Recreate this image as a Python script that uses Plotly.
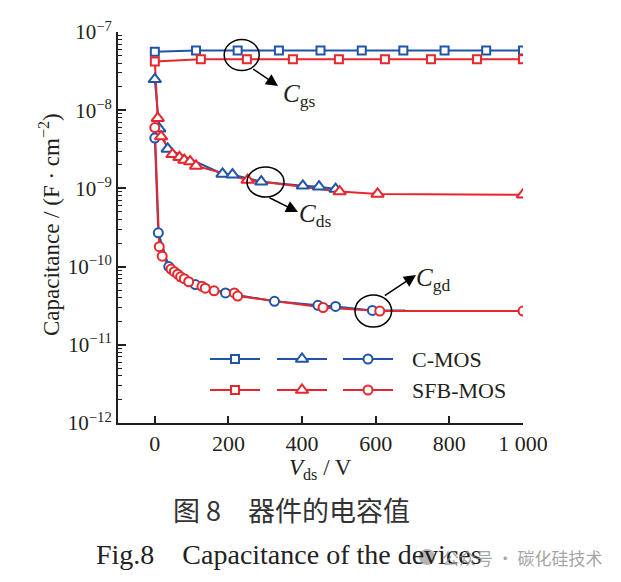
import plotly.graph_objects as go

# ---------------- data ----------------
# C-MOS (blue)
cgs_cmos_x = [0, 112, 225, 337, 450, 562, 675, 787, 900, 1000]
cgs_cmos_y = [5.6e-8, 5.8e-8, 5.8e-8, 5.8e-8, 5.8e-8, 5.8e-8, 5.8e-8, 5.8e-8, 5.8e-8, 5.8e-8]
cds_cmos_x = [0, 12, 35, 184, 211, 289, 402, 446, 491]
cds_cmos_y = [2.48e-8, 5.8e-9, 3.2e-9, 1.53e-9, 1.5e-9, 1.22e-9, 1.08e-9, 1.05e-9, 0.98e-9]
cgd_cmos_x = [0, 9.5, 38, 110, 192, 325, 443, 491, 591, 680]
cgd_cmos_y = [4.4e-9, 2.7e-10, 1.0e-10, 5.9e-11, 4.6e-11, 3.6e-11, 3.2e-11, 3.1e-11, 2.75e-11, 2.75e-11]

# SFB-MOS (red)
cgs_sfb_x = [0, 125, 250, 375, 500, 625, 750, 875, 1000]
cgs_sfb_y = [4.2e-8, 4.48e-8, 4.48e-8, 4.48e-8, 4.48e-8, 4.48e-8, 4.48e-8, 4.48e-8, 4.48e-8]
cds_sfb_x = [0, 8, 17, 48, 67, 80, 96, 112, 252, 502, 605, 1000]
cds_sfb_y = [4.2e-8, 7.9e-9, 4.6e-9, 2.73e-9, 2.5e-9, 2.3e-9, 2.2e-9, 1.94e-9, 1.28e-9, 0.91e-9, 0.85e-9, 0.83e-9]
cgd_sfb_x = [0, 12, 20, 44, 53, 62, 70, 80, 92, 128, 137, 161, 216, 225, 457, 611, 1000]
cgd_sfb_y = [6.0e-9, 1.8e-10, 1.36e-10, 9.3e-11, 8.6e-11, 8.0e-11, 7.4e-11, 7.0e-11, 6.4e-11,
             5.6e-11, 5.3e-11, 4.9e-11, 4.6e-11, 4.2e-11, 3.0e-11, 2.7e-11, 2.7e-11]

series_names = ["C-MOS", "SFB-MOS"]
x_tick_vals = [0, 200, 400, 600, 800, 1000]
x_tick_text = ["0", "200", "400", "600", "800", "1 000"]
y_exponents = [-12, -11, -10, -9, -8, -7]

# ---------------- style ----------------
BLUE = "#1f54a6"
RED = "#e8262d"
AX = "#231f20"
SERIF = "Liberation Serif, Times New Roman, serif"
W, H = 621, 582
L, R, T, B = 118, 98, 32, 159

MK = {
    "square": dict(symbol="square", size=8),
    "tri": dict(symbol="triangle-up", size=11),
    "circ": dict(symbol="circle", size=9),
}

fig = go.Figure()

series = [
    (cgs_cmos_x, cgs_cmos_y, BLUE, "square", 0, None),
    (cds_cmos_x, cds_cmos_y, BLUE, "tri", 0, None),
    (cgd_cmos_x, cgd_cmos_y, BLUE, "circ", 0, -1),
    (cgs_sfb_x, cgs_sfb_y, RED, "square", 0, None),
    (cds_sfb_x, cds_sfb_y, RED, "tri", 1, None),
    (cgd_sfb_x, cgd_sfb_y, RED, "circ", 0, None),
]

for xs, ys, col, mk, s0, s1 in series:
    fig.add_trace(go.Scatter(x=xs, y=ys, mode="lines", line=dict(color=col, width=2),
                             showlegend=False, hoverinfo="skip"))
for xs, ys, col, mk, s0, s1 in series:
    fig.add_trace(go.Scatter(x=xs[s0:s1], y=ys[s0:s1], mode="markers",
                             marker=dict(**MK[mk], color="white", line=dict(color=col, width=2)),
                             showlegend=False, hoverinfo="skip"))

# ---------------- custom legend (overlay pixel axes) ----------------
leg_rows = [(359, BLUE), (390, RED)]
leg_cols = [(210, 260, "square"), (277, 327, "tri"), (343, 393, "circ")]
for (ly, col), name in zip(leg_rows, series_names):
    for x0, x1, mk in leg_cols:
        fig.add_trace(go.Scatter(x=[x0, x1], y=[ly, ly], mode="lines", xaxis="x2", yaxis="y2",
                                 line=dict(color=col, width=2), showlegend=False, hoverinfo="skip"))
        fig.add_trace(go.Scatter(x=[(x0 + x1) / 2], y=[ly], mode="markers", xaxis="x2", yaxis="y2",
                                 marker=dict(**MK[mk], color="white", line=dict(color=col, width=2)),
                                 showlegend=False, hoverinfo="skip"))
    fig.add_annotation(x=410, y=ly, xref="x2", yref="y2", text=name, showarrow=False,
                       xanchor="left", yanchor="middle", font=dict(family=SERIF, size=22, color=AX))

# ---------------- ellipses, arrows, labels ----------------
ellipses = [(241.7, 55, 17.5, 15.5), (265.5, 182, 18.5, 15), (373.3, 311, 18.3, 16)]
for cx, cy, rx, ry in ellipses:
    fig.add_shape(type="circle", xref="x2", yref="y2", x0=cx - rx, x1=cx + rx, y0=cy - ry, y1=cy + ry,
                  line=dict(color="black", width=1.5))

arrows = [((251.7, 68), (278, 86)), ((268, 197), (298, 212)), ((383.3, 296.7), (416, 275))]
for (tx, ty), (hx, hy) in arrows:
    fig.add_annotation(x=hx, y=hy, ax=tx, ay=ty, xref="x2", yref="y2", axref="x2", ayref="y2",
                       text="", showarrow=True, arrowhead=2, arrowsize=1.6, arrowwidth=1.5,
                       arrowcolor="black")

labels = [(281, 95, "gs"), (297, 215, "ds"), (414, 279, "gd")]
for lx, ly, sub in labels:
    fig.add_annotation(x=lx, y=ly, xref="x2", yref="y2",
                       text=f"<i>C</i><sub>{sub}</sub>", showarrow=False,
                       xanchor="left", yanchor="middle", font=dict(family=SERIF, size=25, color=AX))


def px_x(p):
    return (p - L) / (W - L - R)


def px_y(p):
    return (H - B - p) / (H - T - B)


# axis titles
fig.add_annotation(x=px_x(50), y=px_y(225), xref="paper", yref="paper",
                   text="Capacitance / (F · cm<sup>−2</sup>)", textangle=-90, showarrow=False,
                   xanchor="center", yanchor="middle", font=dict(family=SERIF, size=23, color=AX))
fig.add_annotation(x=px_x(320), y=px_y(469), xref="paper", yref="paper",
                   text="<i>V</i><sub>ds</sub> / V", showarrow=False, borderpad=0,
                   xanchor="center", yanchor="middle", font=dict(family=SERIF, size=23, color=AX))

# captions
fig.add_annotation(x=px_x(171), y=px_y(509), xref="paper", yref="paper",
                   text="图 8\u2003器件的电容值", showarrow=False, xanchor="left", yanchor="middle",
                   font=dict(family="Noto Sans CJK SC", size=27, color="#333333"))
fig.add_annotation(x=px_x(94), y=px_y(554), xref="paper", yref="paper",
                   text="Fig.8\u2003Capacitance of the devices", showarrow=False, xanchor="left",
                   yanchor="middle", font=dict(family=SERIF, size=28, color="#222222"))
fig.add_shape(type="circle", xref="paper", yref="paper",
              x0=px_x(419), x1=px_x(435), y0=px_y(565), y1=px_y(549),
              fillcolor="rgba(120,120,120,0.55)", line=dict(width=0))
fig.add_annotation(x=px_x(440), y=px_y(557), xref="paper", yref="paper",
                   text="公众号 · 碳化硅技术", showarrow=False, xanchor="left", yanchor="middle",
                   font=dict(family="Noto Sans CJK SC", size=17, color="rgba(140,140,140,0.8)"))

minor_vals = [k * 10.0 ** e for e in range(-12, -7) for k in range(2, 10)]

fig.update_layout(
    width=W, height=H, margin=dict(l=L, r=R, t=T, b=B, pad=0),
    paper_bgcolor="white", plot_bgcolor="white", showlegend=False,
    xaxis=dict(range=[-100, 1000], tickmode="array", tickvals=x_tick_vals, ticktext=x_tick_text,
               ticks="inside", ticklen=7, tickwidth=1.5, tickcolor=AX, showline=True, linecolor=AX,
               linewidth=2, showgrid=False, zeroline=False,
               tickfont=dict(family=SERIF, size=22, color=AX)),
    yaxis=dict(type="log", range=[-12, -7], tickmode="array",
               tickvals=[10.0 ** e for e in y_exponents],
               ticktext=[f"10<sup>−{-e}</sup>" for e in y_exponents],
               ticks="inside", ticklen=8, tickwidth=1.5, tickcolor=AX, showline=True, linecolor=AX,
               linewidth=2, showgrid=False, zeroline=False,
               minor=dict(tickmode="array", tickvals=minor_vals, ticks="inside", ticklen=4,
                          tickwidth=1.2, tickcolor=AX, showgrid=False),
               tickfont=dict(family=SERIF, size=21, color=AX)),
    xaxis2=dict(overlaying="x", range=[L, W - R], visible=False, fixedrange=True),
    yaxis2=dict(overlaying="y", range=[H - B, T], visible=False, fixedrange=True),
)

fig.write_html("out.html")
